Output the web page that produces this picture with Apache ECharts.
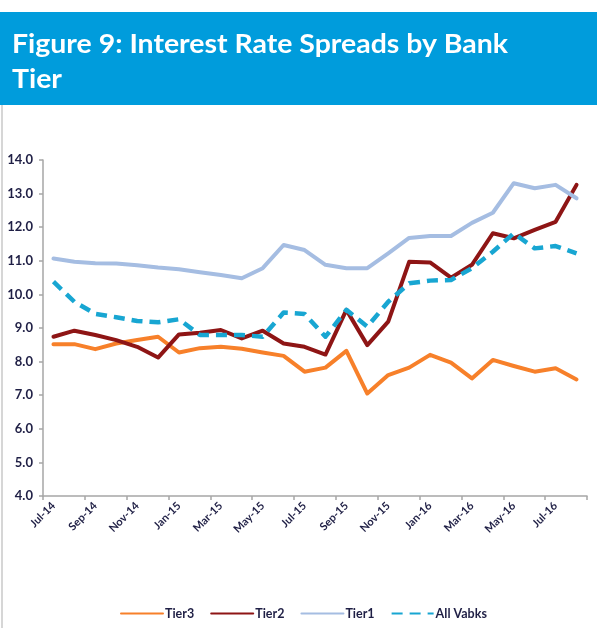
<!DOCTYPE html>
<html>
<head>
<meta charset="utf-8">
<script src="https://cdn.jsdelivr.net/npm/echarts@6/dist/echarts.min.js"></script>
<style>
html,body{margin:0;padding:0;background:#fff;}
#c{width:597px;height:628px;}
</style>
</head>
<body>
<div id="c"></div>
<script>
const categories = ["Jul-14","Aug-14","Sep-14","Oct-14","Nov-14","Dec-14","Jan-15","Feb-15","Mar-15","Apr-15","May-15","Jun-15","Jul-15","Aug-15","Sep-15","Oct-15","Nov-15","Dec-15","Jan-16","Feb-16","Mar-16","Apr-16","May-16","Jun-16","Jul-16","Aug-16"];
const tier3 = [8.52,8.52,8.37,8.54,8.64,8.74,8.27,8.40,8.44,8.38,8.27,8.17,7.70,7.82,8.32,7.05,7.60,7.82,8.20,7.97,7.50,8.05,7.87,7.70,7.80,7.47];
const tier2 = [8.74,8.92,8.79,8.64,8.44,8.12,8.81,8.86,8.94,8.69,8.92,8.54,8.44,8.21,9.54,8.49,9.19,10.97,10.95,10.50,10.88,11.82,11.67,11.92,12.16,13.26];
const tier1 = [11.07,10.97,10.93,10.92,10.87,10.80,10.75,10.66,10.58,10.48,10.78,11.47,11.32,10.88,10.78,10.78,11.22,11.68,11.74,11.74,12.13,12.43,13.31,13.16,13.26,12.86];
const allVabks = [10.38,9.78,9.42,9.32,9.21,9.17,9.26,8.79,8.79,8.79,8.74,9.46,9.42,8.74,9.54,9.04,9.78,10.33,10.41,10.43,10.78,11.27,11.82,11.37,11.44,11.22];
const seriesNames = ["Tier3","Tier2","Tier1","All Vabks"];
const titleLine1 = "Figure 9: Interest Rate Spreads by Bank";
const titleLine2 = "Tier";

const titleFont = "bold 27px Lato";
const cv = document.createElement('canvas').getContext('2d');
cv.font = titleFont;
const w1 = cv.measureText(titleLine1).width;
const sx = 496 / w1;

const chart = echarts.init(document.getElementById('c'), null, {renderer:'canvas'});
const txtColor = '#1f1f45';
const mk = (name, data, color, extra) => Object.assign({
  name, type:'line', data, symbol:'none', showSymbol:false, smooth:false,
  lineStyle:{color, width:4, cap:'round', join:'round'}, itemStyle:{color}
}, extra||{});

chart.setOption({
  backgroundColor:'#fff',
  animation:false,
  graphic:[
    {type:'rect', shape:{x:0,y:12,width:597,height:93}, style:{fill:'#009cdc'}},
    {type:'line', shape:{x1:2,y1:105,x2:2,y2:628}, style:{stroke:'#c8c8c8', lineWidth:1.5}},
    {type:'text', x:12, y:31, scaleX:sx, style:{text:titleLine1, font:titleFont, fill:'#fff'}},
    {type:'text', x:12, y:66, scaleX:sx, style:{text:titleLine2, font:titleFont, fill:'#fff'}}
  ],
  grid:{left:43, right:10, top:160, bottom:132, containLabel:false},
  legend:{
    data:seriesNames, left:115, top:602, itemWidth:42, itemHeight:8, itemGap:16,
    itemStyle:{opacity:0},
    textStyle:{fontFamily:'Lato', fontWeight:'bold', fontSize:12.5, color:txtColor, padding:[0,0,0,-3]}
  },
  xAxis:{
    type:'category', data:categories, boundaryGap:true,
    axisLine:{lineStyle:{color:'#a6a6a6', width:1.5}},
    axisTick:{show:true, interval:1, length:4, lineStyle:{color:'#a6a6a6', width:1.5}},
    axisLabel:{interval:1, rotate:45, margin:8, fontFamily:'Lato', fontWeight:'bold', fontSize:11, color:txtColor},
    splitLine:{show:false}
  },
  yAxis:{
    type:'value', min:4, max:14, interval:1,
    axisLine:{show:true, lineStyle:{color:'#a6a6a6', width:1.5}},
    axisTick:{show:true, length:4, lineStyle:{color:'#a6a6a6', width:1.5}},
    axisLabel:{margin:10, formatter:v=>v.toFixed(1), fontFamily:'Lato', fontWeight:'bold', fontSize:13, color:txtColor},
    splitLine:{show:false}
  },
  series:[
    mk(seriesNames[0], tier3, '#f7802a'),
    mk(seriesNames[1], tier2, '#8e1515'),
    mk(seriesNames[2], tier1, '#a5bde2'),
    mk(seriesNames[3], allVabks, '#18a6d2', {lineStyle:{color:'#18a6d2', width:4.5, type:[11,7], cap:'butt', join:'round'}})
  ]
});
</script>
</body>
</html>
